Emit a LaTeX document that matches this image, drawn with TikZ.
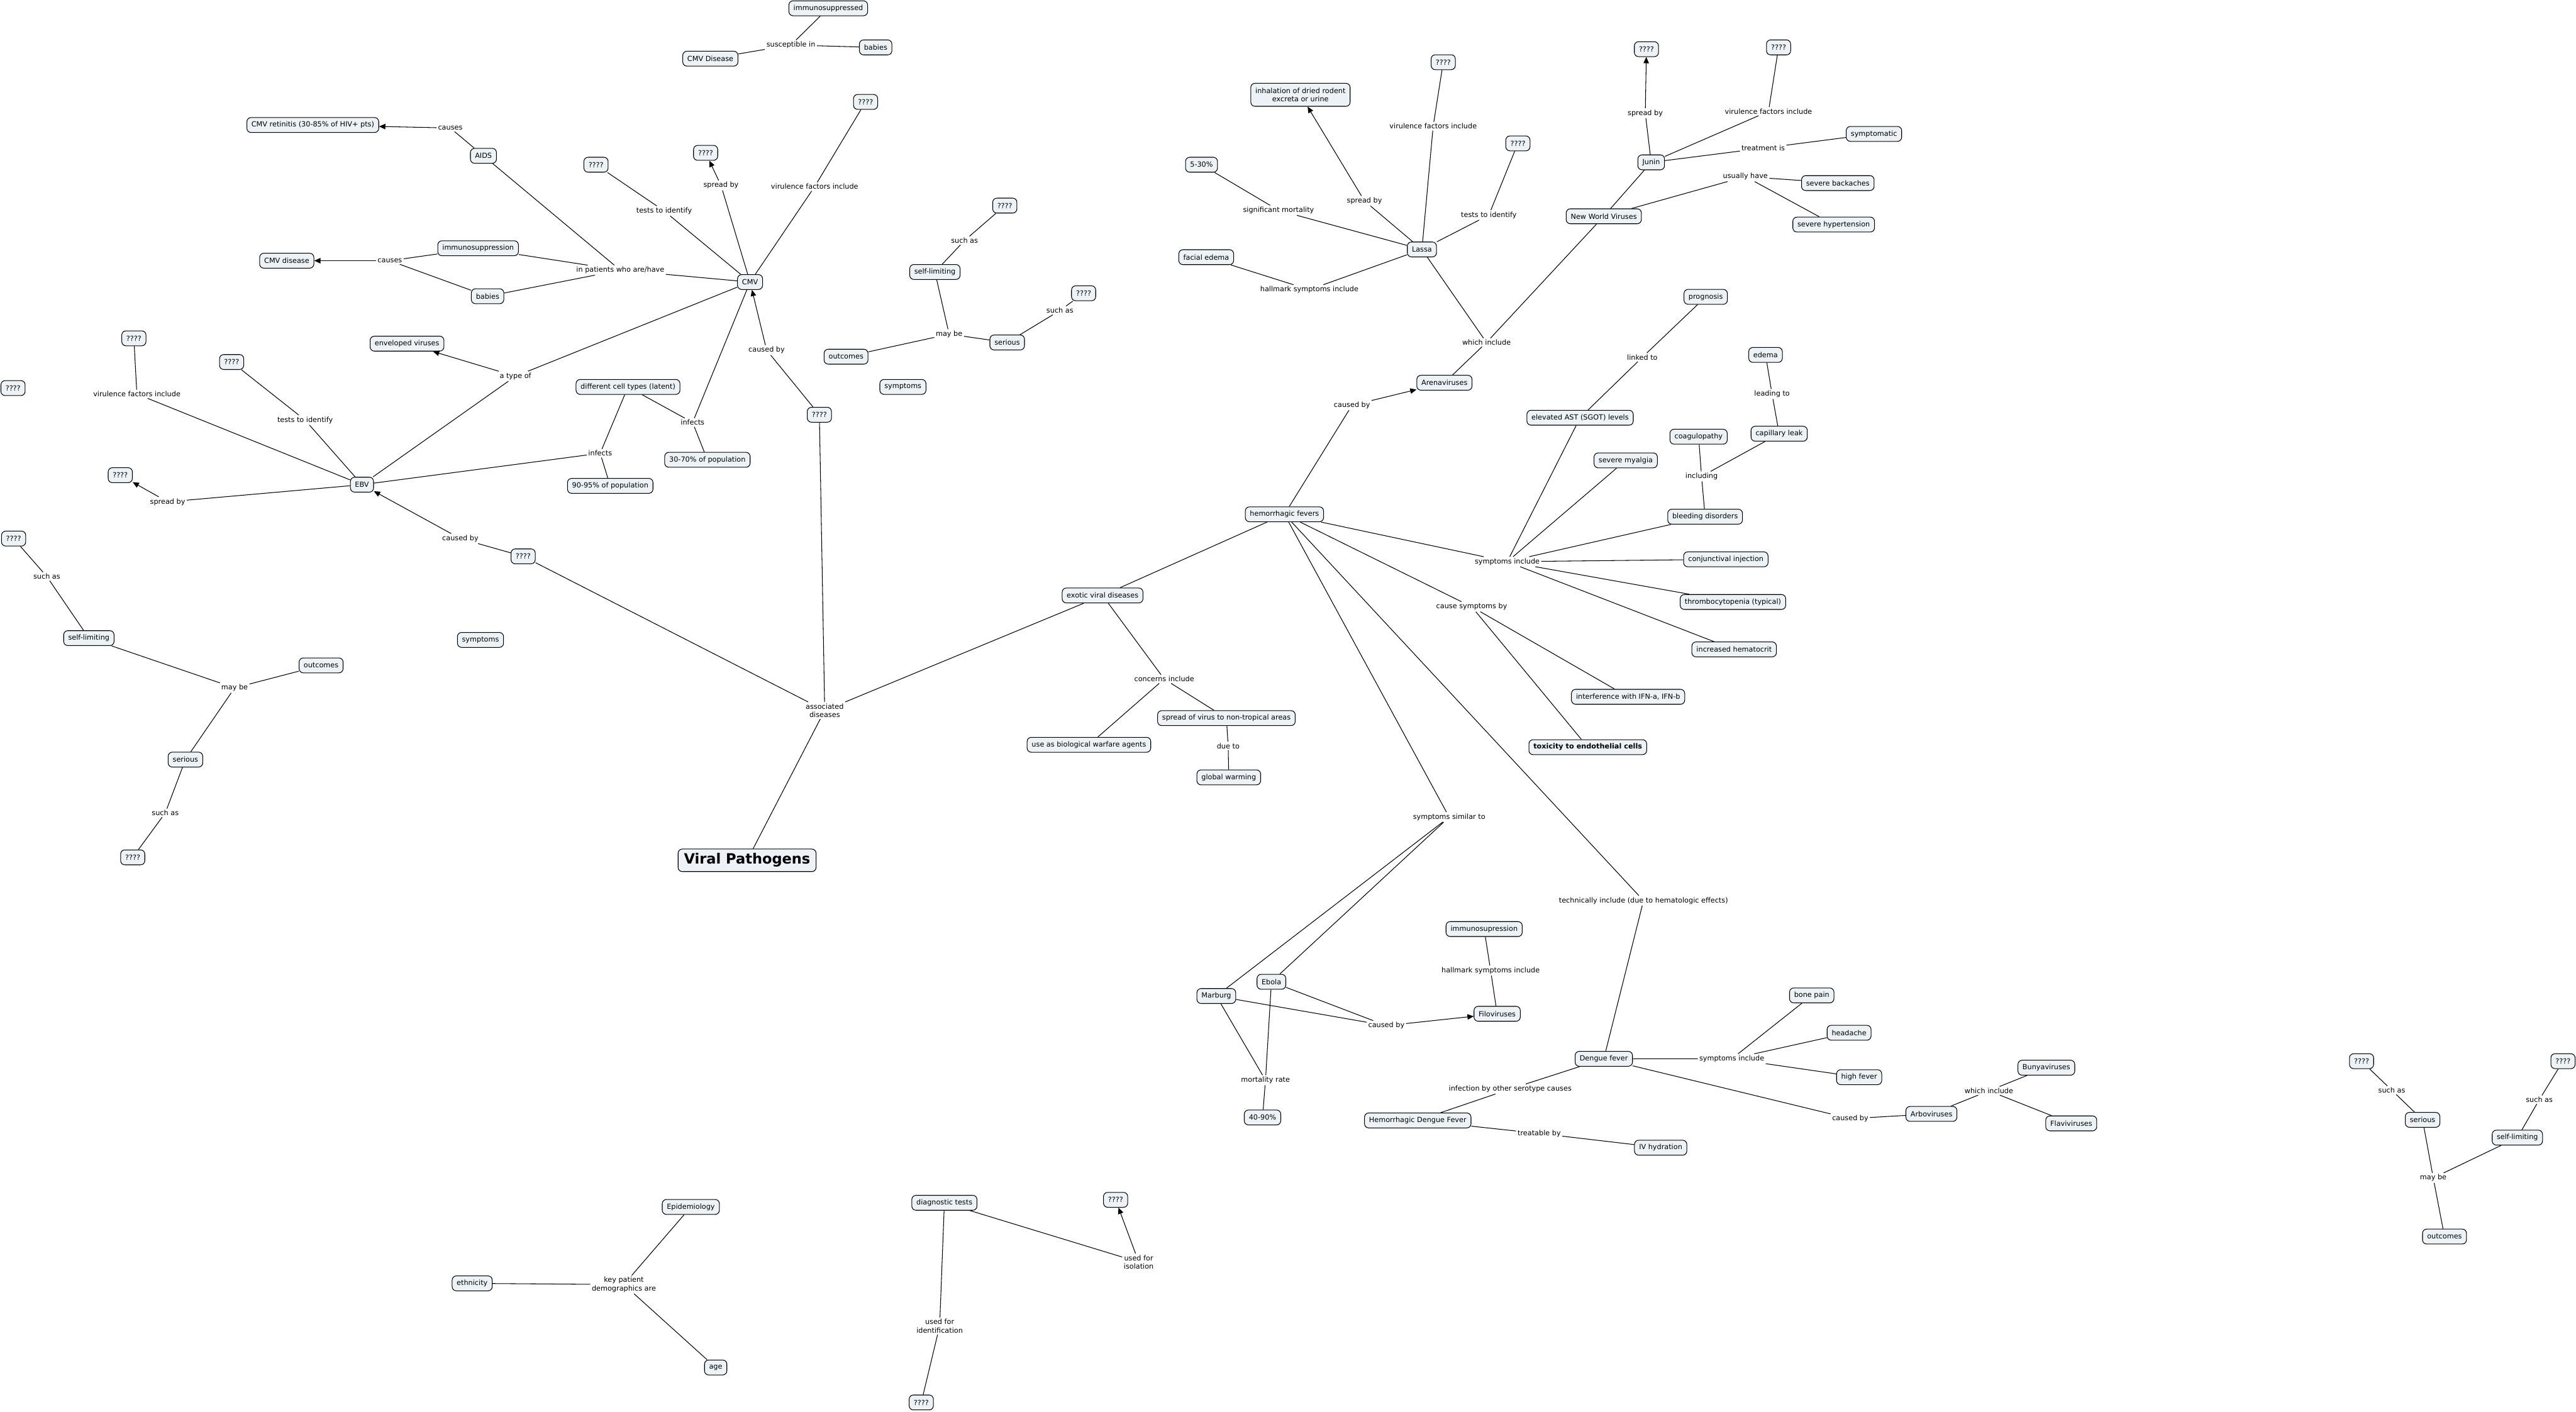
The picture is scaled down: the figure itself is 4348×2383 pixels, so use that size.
\documentclass[tikz,border=0pt]{standalone}
\usepackage{fontspec}
\setmainfont{DejaVu Sans}
\usetikzlibrary{arrows.meta}
\definecolor{conceptfill}{RGB}{236,242,245}

\begin{document}
\begin{tikzpicture}[x=0.025cm,y=-0.025cm,line width=0.8pt,
  every node/.style={font=\fontsize{8.5}{10}\selectfont},
  concept/.style={draw,fill=conceptfill,rounded corners=5pt,align=center,
    inner xsep=5.5pt,inner ysep=2pt,minimum height=0.63cm},
  phrase/.style={inner sep=1.5pt,align=center},
  toarrow/.style={-{Triangle[length=7.5pt,width=6.5pt]}}]
\useasboundingbox (0,0) rectangle (4348,2383);

\node[concept] (cmvdistop) at (1199,99) {CMV Disease};
\node[concept] (immsupd) at (1398,14) {immunosuppressed};
\node[concept] (babiestop) at (1478,80) {babies};
\node[phrase] (lsusc) at (1335,76) {susceptible in};

\node[concept] (retin) at (528,211) {CMV retinitis (30-85\% of HIV+ pts)};
\node[phrase] (lcauses1) at (760,216) {causes};
\node[concept] (aids) at (816,263) {AIDS};
\node[concept] (immsup) at (807,419) {immunosuppression};
\node[concept] (cmvdis) at (484,440) {CMV disease};
\node[phrase] (lcauses2) at (658,440) {causes};
\node[concept] (babies) at (823,500) {babies};
\node[phrase] (lpatients) at (1047,456) {in patients who are/have};
\node[concept] (q1) at (1006,278) {????};
\node[phrase] (lcmvtests) at (1121,356) {tests to identify};
\node[concept] (q2) at (1191,258) {????};
\node[phrase] (lcmvspread) at (1217,313) {spread by};
\node[concept] (q3) at (1461,172) {????};
\node[phrase] (lcmvvir) at (1375,315) {virulence factors include};
\node[concept] (cmv) at (1266,476) {CMV};
\node[phrase] (lcmvcaused) at (1294,591) {caused by};
\node[concept] (q4) at (1383,700) {????};
\node[phrase] (lcmvinf) at (1169,713) {infects};
\node[concept] (pop30) at (1194,776) {30-70\% of population};
\node[concept] (cells) at (1060,653) {different cell types (latent)};
\node[concept] (envel) at (687,580) {enveloped viruses};
\node[phrase] (ltype) at (870,635) {a type of};
\node[concept] (q5) at (226,571) {????};
\node[phrase] (lebvvir) at (231,665) {virulence factors include};
\node[concept] (q6) at (391,611) {????};
\node[phrase] (lebvtests) at (515,709) {tests to identify};
\node[concept] (q7) at (22,655) {????};
\node[concept] (ebv) at (611,818) {EBV};
\node[phrase] (lebvinf) at (1013,765) {infects};
\node[concept] (pop90) at (1030,820) {90-95\% of population};
\node[concept] (q8) at (203,802) {????};
\node[phrase] (lebvspread) at (283,847) {spread by};
\node[concept] (q9) at (883,939) {????};
\node[phrase] (lebvcaused) at (777,909) {caused by};
\node[concept] (sympleft) at (811,1080) {symptoms};

\node[concept] (q10) at (23,909) {????};
\node[phrase] (lsuch1) at (79,973) {such as};
\node[concept] (selfleft) at (150,1077) {self-limiting};
\node[phrase] (lmay1) at (396,1161) {may be};
\node[concept] (outleft) at (542,1123) {outcomes};
\node[concept] (serleft) at (313,1282) {serious};
\node[phrase] (lsuch2) at (279,1372) {such as};
\node[concept] (q11) at (224,1447) {????};

\node[concept] (q12) at (1696,347) {????};
\node[phrase] (lsuch3) at (1628,406) {such as};
\node[concept] (selfmid) at (1578,459) {self-limiting};
\node[phrase] (lmay2) at (1602,564) {may be};
\node[concept] (outmid) at (1428,602) {outcomes};
\node[concept] (sermid) at (1700,578) {serious};
\node[phrase] (lsuch4) at (1789,524) {such as};
\node[concept] (q13) at (1829,495) {????};
\node[concept] (sympmid) at (1524,653) {symptoms};

\node[phrase] (lassoc) at (1392,1199) {associated\\diseases};
\node[concept,font=\fontsize{17}{20}\selectfont\bfseries,minimum height=0.95cm,inner xsep=7pt] (viral) at (1261,1452) {Viral Pathogens};
\node[concept] (exotic) at (1861,1005) {exotic viral diseases};
\node[phrase] (lconcerns) at (1965,1146) {concerns include};
\node[concept] (warfare) at (1838,1257) {use as biological warfare agents};
\node[concept] (spreadnt) at (2070,1212) {spread of virus to non-tropical areas};
\node[phrase] (ldue) at (2073,1259) {due to};
\node[concept] (warming) at (2074,1312) {global warming};

\node[concept] (hf) at (2168,868) {hemorrhagic fevers};
\node[phrase] (lhfcaused) at (2282,684) {caused by};
\node[concept] (arena) at (2438,646) {Arenaviruses};
\node[phrase] (lwhich1) at (2509,578) {which include};
\node[concept] (lassa) at (2400,421) {Lassa};
\node[concept,minimum height=0.97cm] (inhal) at (2195,160) {inhalation of dried rodent\\excreta or urine};
\node[phrase] (llspread) at (2303,339) {spread by};
\node[concept] (q14) at (2436,105) {????};
\node[phrase] (llvir) at (2419,213) {virulence factors include};
\node[concept] (q15) at (2562,242) {????};
\node[phrase] (lltests) at (2513,363) {tests to identify};
\node[concept] (pct5) at (2028,278) {5-30\%};
\node[phrase] (lsignif) at (2158,355) {significant mortality};
\node[concept] (facial) at (2036,434) {facial edema};
\node[phrase] (lhallmark1) at (2210,489) {hallmark symptoms include};
\node[concept] (nwv) at (2707,365) {New World Viruses};
\node[concept] (junin) at (2787,274) {Junin};
\node[concept] (q16) at (2779,83) {????};
\node[phrase] (ljspread) at (2777,191) {spread by};
\node[concept] (q17) at (3002,80) {????};
\node[phrase] (ljvir) at (2985,188) {virulence factors include};
\node[phrase] (ltreat) at (2976,250) {treatment is};
\node[concept] (symptomatic) at (3163,226) {symptomatic};
\node[phrase] (lusually) at (2946,298) {usually have};
\node[concept] (backache) at (3102,309) {severe backaches};
\node[concept] (hypert) at (3095,379) {severe hypertension};

\node[phrase] (lhfsymp) at (2544,948) {symptoms include};
\node[concept] (ast) at (2667,705) {elevated AST (SGOT) levels};
\node[phrase] (llinked) at (2772,603) {linked to};
\node[concept] (prog) at (2879,501) {prognosis};
\node[concept] (myalgia) at (2744,777) {severe myalgia};
\node[concept] (bleed) at (2878,872) {bleeding disorders};
\node[phrase] (lincluding) at (2872,804) {including};
\node[concept] (coag) at (2867,737) {coagulopathy};
\node[concept] (capleak) at (3003,732) {capillary leak};
\node[phrase] (lleading) at (2991,665) {leading to};
\node[concept] (edema) at (2980,599) {edema};
\node[concept] (conj) at (2913,944) {conjunctival injection};
\node[concept] (thromb) at (2925,1016) {thrombocytopenia (typical)};
\node[concept] (hemat) at (2927,1096) {increased hematocrit};
\node[phrase] (lcauseby) at (2484,1024) {cause symptoms by};
\node[concept] (ifn) at (2748,1176) {interference with IFN-a, IFN-b};
\node[concept,font=\fontsize{8.5}{10}\selectfont\bfseries] (tox) at (2680,1261) {toxicity to endothelial cells};
\node[phrase] (lsimilar) at (2446,1379) {symptoms similar to};
\node[phrase] (ltechn) at (2774,1520) {technically include (due to hematologic effects)};

\node[concept] (marburg) at (2053,1681) {Marburg};
\node[concept] (ebola) at (2146,1657) {Ebola};
\node[phrase] (lfilocaused) at (2340,1731) {caused by};
\node[concept] (filo) at (2527,1711) {Filoviruses};
\node[phrase] (lhallmark2) at (2516,1638) {hallmark symptoms include};
\node[concept] (immsupr) at (2505,1568) {immunosupression};
\node[phrase] (lmort) at (2136,1823) {mortality rate};
\node[concept] (mort) at (2131,1886) {40-90\%};

\node[concept] (dengue) at (2707,1787) {Dengue fever};
\node[phrase] (lserotype) at (2549,1838) {infection by other serotype causes};
\node[concept] (hdf) at (2393,1891) {Hemorrhagic Dengue Fever};
\node[phrase] (ltreatable) at (2598,1913) {treatable by};
\node[concept] (iv) at (2803,1937) {IV hydration};
\node[phrase] (ldsymp) at (2923,1787) {symptoms include};
\node[concept] (bone) at (3058,1680) {bone pain};
\node[concept] (headache) at (3121,1743) {headache};
\node[concept] (fever) at (3138,1818) {high fever};
\node[phrase] (ldcaused) at (3123,1888) {caused by};
\node[concept] (arbo) at (3260,1880) {Arboviruses};
\node[phrase] (lwhich2) at (3357,1841) {which include};
\node[concept] (bunya) at (3454,1802) {Bunyaviruses};
\node[concept] (flavi) at (3496,1896) {Flaviviruses};

\node[concept] (q18) at (3986,1791) {????};
\node[phrase] (lsuch5) at (4037,1840) {such as};
\node[concept] (serright) at (4089,1890) {serious};
\node[concept] (q19) at (4326,1791) {????};
\node[phrase] (lsuch6) at (4286,1856) {such as};
\node[concept] (selfright) at (4249,1920) {self-limiting};
\node[phrase] (lmay3) at (4107,1988) {may be};
\node[concept] (outright) at (4126,2087) {outcomes};

\node[concept] (epid) at (1166,2037) {Epidemiology};
\node[phrase] (lkey) at (1053,2168) {key patient\\demographics are};
\node[concept] (ethn) at (797,2166) {ethnicity};
\node[concept] (age) at (1208,2308) {age};
\node[concept] (diag) at (1594,2030) {diagnostic tests};
\node[phrase] (lident) at (1586,2238) {used for\\identification};
\node[concept] (q20) at (1555,2367) {????};
\node[phrase] (lisol) at (1922,2130) {used for\\isolation};
\node[concept] (q21) at (1883,2025) {????};

\draw (cmvdistop) -- (lsusc) -- (immsupd);
\draw (lsusc) -- (babiestop);
\draw (aids) -- (lcauses1);
\draw[toarrow] (lcauses1) -- (retin);
\draw (immsup) -- (lcauses2);
\draw (babies) -- (lcauses2);
\draw[toarrow] (lcauses2) -- (cmvdis);
\draw (aids) -- (lpatients);
\draw (immsup) -- (lpatients);
\draw (babies) -- (lpatients);
\draw (lpatients) -- (cmv);
\draw (cmv) -- (lcmvtests) -- (q1);
\draw (cmv) -- (lcmvspread);
\draw[toarrow] (lcmvspread) -- (q2);
\draw (cmv) -- (lcmvvir) -- (q3);
\draw (q4) -- (lcmvcaused);
\draw[toarrow] (lcmvcaused) -- (cmv);
\draw (cmv) -- (lcmvinf) -- (pop30);
\draw (lcmvinf) -- (cells);
\draw (cmv) -- (ltype);
\draw (ebv) -- (ltype);
\draw[toarrow] (ltype) -- (envel);
\draw (ebv) -- (lebvinf) -- (pop90);
\draw (lebvinf) -- (cells);
\draw (ebv) -- (lebvvir) -- (q5);
\draw (ebv) -- (lebvtests) -- (q6);
\draw (ebv) -- (lebvspread);
\draw[toarrow] (lebvspread) -- (q8);
\draw (q9) -- (lebvcaused);
\draw[toarrow] (lebvcaused) -- (ebv);
\draw (q9) -- (lassoc);
\draw (q4) -- (lassoc);
\draw (viral) -- (lassoc) -- (exotic);

\draw (selfleft) -- (lsuch1) -- (q10);
\draw (selfleft) -- (lmay1) -- (outleft);
\draw (serleft) -- (lmay1);
\draw (serleft) -- (lsuch2) -- (q11);
\draw (selfmid) -- (lsuch3) -- (q12);
\draw (selfmid) -- (lmay2) -- (outmid);
\draw (sermid) -- (lmay2);
\draw (sermid) -- (lsuch4) -- (q13);
\draw (serright) -- (lsuch5) -- (q18);
\draw (selfright) -- (lsuch6) -- (q19);
\draw (serright) -- (lmay3) -- (outright);
\draw (selfright) -- (lmay3);

\draw (exotic) -- (hf);
\draw (exotic) -- (lconcerns) -- (warfare);
\draw (lconcerns) -- (spreadnt) -- (ldue) -- (warming);
\draw (hf) -- (lhfcaused);
\draw[toarrow] (lhfcaused) -- (arena);
\draw (arena) -- (lwhich1) -- (lassa);
\draw (lwhich1) -- (nwv);
\draw (lassa) -- (llspread);
\draw[toarrow] (llspread) -- (inhal);
\draw (lassa) -- (llvir) -- (q14);
\draw (lassa) -- (lltests) -- (q15);
\draw (lassa) -- (lsignif) -- (pct5);
\draw (lassa) -- (lhallmark1) -- (facial);
\draw (nwv) -- (junin);
\draw (junin) -- (ljspread);
\draw[toarrow] (ljspread) -- (q16);
\draw (junin) -- (ljvir) -- (q17);
\draw (junin) -- (ltreat) -- (symptomatic);
\draw (nwv) -- (lusually) -- (backache);
\draw (lusually) -- (hypert);

\draw (hf) -- (lhfsymp);
\foreach \s in {ast,myalgia,bleed,conj,thromb,hemat}
  \draw (lhfsymp) -- (\s);
\draw (ast) -- (llinked) -- (prog);
\draw (bleed) -- (lincluding) -- (coag);
\draw (lincluding) -- (capleak) -- (lleading) -- (edema);
\draw (hf) -- (lcauseby) -- (ifn);
\draw (lcauseby) -- (tox);
\draw (hf) -- (lsimilar) -- (marburg);
\draw (lsimilar) -- (ebola);
\draw (hf) -- (ltechn) -- (dengue);

\draw (marburg) -- (lfilocaused);
\draw (ebola) -- (lfilocaused);
\draw[toarrow] (lfilocaused) -- (filo);
\draw (filo) -- (lhallmark2) -- (immsupr);
\draw (marburg) -- (lmort);
\draw (ebola) -- (lmort) -- (mort);

\draw (dengue) -- (lserotype) -- (hdf);
\draw (hdf) -- (ltreatable) -- (iv);
\draw (dengue) -- (ldsymp) -- (bone);
\draw (ldsymp) -- (headache);
\draw (ldsymp) -- (fever);
\draw (dengue) -- (ldcaused) -- (arbo);
\draw (arbo) -- (lwhich2) -- (bunya);
\draw (lwhich2) -- (flavi);

\draw (epid) -- (lkey) -- (ethn);
\draw (lkey) -- (age);
\draw (diag) -- (lident) -- (q20);
\draw (diag) -- (lisol);
\draw[toarrow] (lisol) -- (q21);
\end{tikzpicture}
\end{document}
